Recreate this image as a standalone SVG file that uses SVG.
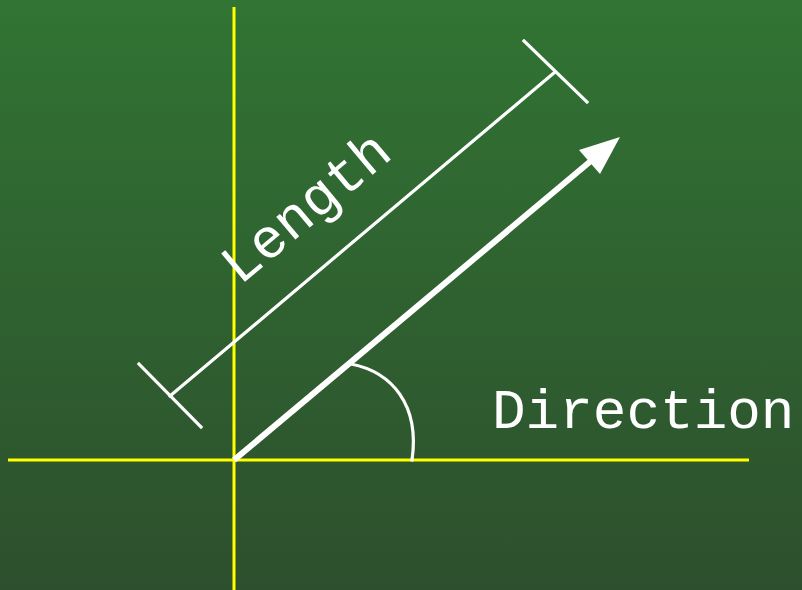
<svg xmlns="http://www.w3.org/2000/svg" width="802" height="590" viewBox="0 0 802 590">
<defs>
<linearGradient id="bg" x1="0" y1="0" x2="0" y2="1">
<stop offset="0" stop-color="#317433"/>
<stop offset="1" stop-color="#2d4f2d"/>
</linearGradient>
</defs>
<style>
.axis{stroke:#ffff00;stroke-width:3;fill:none}
.w{stroke:#ffffff;stroke-width:3.2;fill:none;stroke-linecap:square}
.lbl{font-family:"Liberation Mono","Courier New",monospace;font-size:56px;fill:#ffffff}
</style>
<rect x="0" y="0" width="802" height="590" fill="url(#bg)"/>
<g id="axes">
<line class="axis" x1="234" y1="7" x2="234" y2="590"/>
<line class="axis" x1="8" y1="460" x2="749" y2="460"/>
</g>
<g id="connectors">
<g id="length-bar">
<line class="w" x1="170" y1="396" x2="555" y2="72"/>
<line class="w" x1="139" y1="364" x2="201" y2="427"/>
<line class="w" x1="524" y1="41" x2="587" y2="102"/>
</g>
<g id="vector">
<line x1="234" y1="460" x2="592" y2="160" stroke="#ffffff" stroke-width="6"/>
<polygon points="620,137 579,150 600,174" fill="#ffffff"/>
</g>
<path id="angle" class="w" d="M351,364 C392,372 420,405 412,460" stroke-linecap="butt"/>
</g>
<g id="labels">
<text class="lbl" x="492" y="428">Direction</text>
<text class="lbl" transform="translate(240,286) rotate(-40)">Length</text>
</g>
</svg>
